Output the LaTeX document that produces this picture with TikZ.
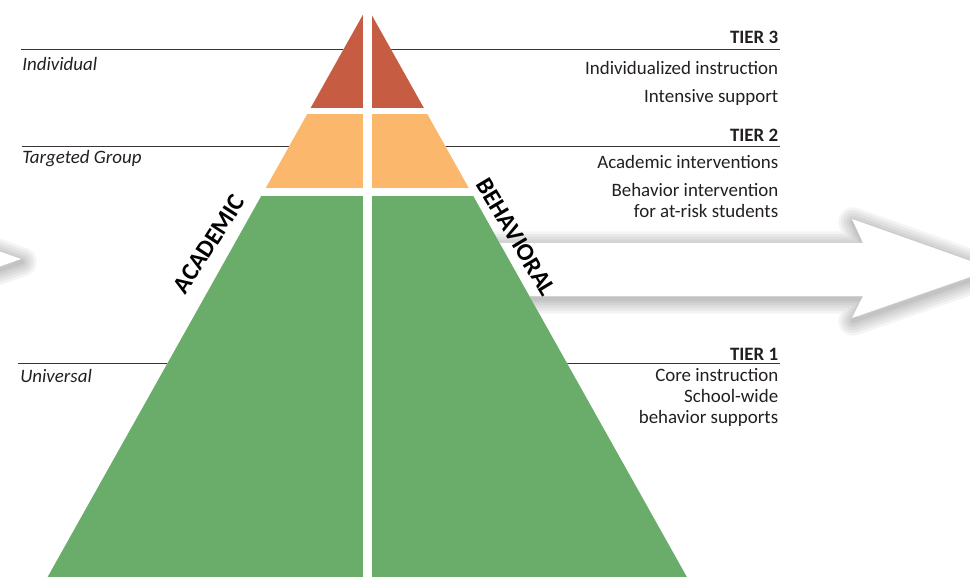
\documentclass[tikz,border=0pt]{standalone}
\usepackage{fontspec}
\setmainfont{Carlito}
\usepackage{xcolor}
\definecolor{tierred}{RGB}{198,92,65}
\definecolor{tierorange}{RGB}{251,184,109}
\definecolor{tiergreen}{RGB}{106,173,107}
\definecolor{inkgray}{RGB}{35,31,32}
\tikzset{
  tierline/.style={draw=inkgray!90, line width=0.75pt},
  tiertext/.style={anchor=base east, inner sep=0pt, text=inkgray, font=\fontsize{14.2}{17}\selectfont},
  tierhead/.style={tiertext, font=\fontsize{14.2}{17}\selectfont\bfseries},
  levellabel/.style={anchor=base west, inner sep=0pt, text=inkgray, font=\fontsize{14.2}{17}\selectfont\itshape},
  sidelabel/.style={inner sep=0pt, text=black, font=\fontsize{18.5}{20}\selectfont\bfseries},
  arrowglow/.style={draw=black, line width=#1pt, draw opacity=0.045, line join=round},
  arrowbody/.style={fill=white}
}
% arrow outline, tip at (0,0)
\newcommand{\arrowoutline}{(-520,-26) -- (-130,-26) -- (-141,-50) -- (0,0) -- (-141,49) -- (-130,27) -- (-520,27) -- cycle}

\begin{document}
\begin{tikzpicture}[x=0.75pt,y=0.75pt,yscale=-1,xscale=1]
\useasboundingbox (0,0) rectangle (970,577);
\clip (0,0) rectangle (970,577);

%Straight Lines [id:tier3line]
\draw [tierline] (21,49.5) -- (780,49.5) ;
%Straight Lines [id:tier2line]
\draw [tierline] (22,146.5) -- (780,146.5) ;
%Straight Lines [id:tier1line]
\draw [tierline] (18,363.5) -- (780,363.5) ;

%Shape: Arrow [id:leftarrow]
\begin{scope}[shift={(21,259)}]
\foreach \w in {22,18,14,10,6,3}
  \draw [arrowglow=\w, shift={(1,3)}] \arrowoutline ;
\fill [arrowbody] \arrowoutline ;
\end{scope}
%Shape: Arrow [id:rightarrow]
\begin{scope}[shift={(993,269)}]
\foreach \w in {22,18,14,10,6,3}
  \draw [arrowglow=\w, shift={(1,3)}] \arrowoutline ;
\fill [arrowbody] \arrowoutline ;
\end{scope}

%Shape: Triangle [id:pyramid]
\coordinate (apex) at (367.25,7);
\coordinate (baseL) at (47.6,577);
\coordinate (baseR) at (686.9,577);
\fill [white] (apex) -- (baseL) -- (baseR) -- cycle ;
\begin{scope}
\clip (apex) -- (baseL) -- (baseR) -- cycle ;
\fill [tierred] (0,0) rectangle (362.5,108) ;
\fill [tierred] (372,0) rectangle (700,108) ;
\fill [tierorange] (0,114) rectangle (362.5,188) ;
\fill [tierorange] (372,114) rectangle (700,188) ;
\fill [tiergreen] (0,196) rectangle (362.5,580) ;
\fill [tiergreen] (372,196) rectangle (700,580) ;
\end{scope}

% Text Node
\node [sidelabel, rotate=57] (academic) at (209,244) {ACADEMIC};
% Text Node
\node [sidelabel, rotate=-59] (behavioral) at (516,237) {BEHAVIORAL};

% Text Node
\node [levellabel] (individual) at (22,70.5) {Individual};
% Text Node
\node [levellabel] (targeted) at (22,164) {Targeted Group};
% Text Node
\node [levellabel] (universal) at (20,382.5) {Universal};

% Text Node
\node [tierhead] (tier3) at (778.5,43.5) {TIER 3};
\node [tiertext] (t3a) at (778.5,75) {Individualized instruction};
\node [tiertext] (t3b) at (778.5,102.5) {Intensive support};
% Text Node
\node [tierhead] (tier2) at (778.5,141.5) {TIER 2};
\node [tiertext] (t2a) at (778.5,169) {Academic interventions};
\node [tiertext] (t2b) at (778.5,196.5) {Behavior intervention};
\node [tiertext] (t2c) at (778.5,217.5) {for at-risk students};
% Text Node
\node [tierhead] (tier1) at (778.5,360) {TIER 1};
\node [tiertext] (t1a) at (778.5,381.5) {Core instruction};
\node [tiertext] (t1b) at (778.5,402.5) {School-wide};
\node [tiertext] (t1c) at (778.5,423.5) {behavior supports};
\end{tikzpicture}
\end{document}
